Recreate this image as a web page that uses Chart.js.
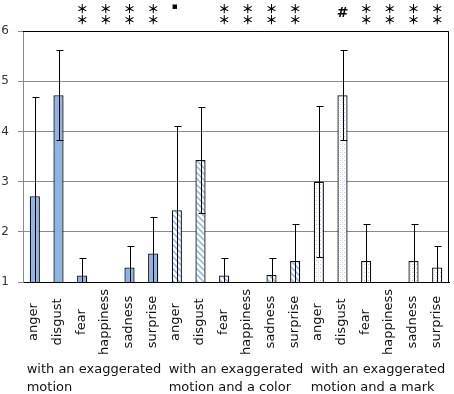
<!DOCTYPE html>
<html>
<head>
<meta charset="utf-8">
<script src="https://cdn.jsdelivr.net/npm/chart.js@4.4.0/dist/chart.umd.min.js"></script>
<style>
  html, body { margin: 0; padding: 0; background: #fff; }
</style>
</head>
<body>
<canvas id="c" width="454" height="394"></canvas>
<script>
// data
const emotions = ['anger', 'disgust', 'fear', 'happiness', 'sadness', 'surprise'];
const conditions = [
  ['with an exaggerated', 'motion'],
  ['with an exaggerated', 'motion and a color'],
  ['with an exaggerated', 'motion and a mark'],
];
const motionOnly = [2.71, 4.72, 1.13, 1.0, 1.29, 1.57];
const motionColor = [2.43, 3.43, 1.13, 1.0, 1.14, 1.42];
const motionMark = [3.0, 4.72, 1.42, 1.0, 1.42, 1.29];
const motionOnlyErr = [1.98, 0.9, 0.35, 0, 0.43, 0.73];
const motionColorErr = [1.68, 1.05, 0.35, 0, 0.34, 0.73];
const motionMarkErr = [1.51, 0.9, 0.73, 0, 0.73, 0.43];
const marks = ['', '', '**', '**', '**', '**', '▪', '', '**', '**', '**', '**', '', '#', '**', '**', '**', '**'];
const yMin = 1, yMax = 6;

const labels = conditions.flatMap(() => emotions);
const values = [...motionOnly, ...motionColor, ...motionMark];
const errors = [...motionOnlyErr, ...motionColorErr, ...motionMarkErr];

const canvas = document.getElementById('c');
const ctx = canvas.getContext('2d');

function stripePattern() {
  const p = document.createElement('canvas');
  p.width = 6; p.height = 6;
  const g = p.getContext('2d');
  g.fillStyle = '#fff';
  g.fillRect(0, 0, 6, 6);
  g.strokeStyle = '#8bb3e4';
  g.lineWidth = 1.5;
  g.beginPath();
  g.moveTo(-1, -1); g.lineTo(7, 7);
  g.moveTo(-1, 5); g.lineTo(1, 7);
  g.moveTo(5, -1); g.lineTo(7, 1);
  g.stroke();
  return ctx.createPattern(p, 'repeat');
}

function dotPattern() {
  const p = document.createElement('canvas');
  p.width = 4; p.height = 4;
  const g = p.getContext('2d');
  g.fillStyle = '#fff';
  g.fillRect(0, 0, 4, 4);
  g.fillStyle = '#b4cbea';
  g.fillRect(0, 0, 1, 1);
  g.fillRect(2, 2, 1, 1);
  g.fillStyle = '#dde8f6';
  g.fillRect(2, 0, 1, 1);
  return ctx.createPattern(p, 'repeat');
}

const fills = [].concat(
  emotions.map(() => '#8db4e2'),
  emotions.map(() => stripePattern()),
  emotions.map(() => dotPattern())
);

const errorBars = {
  id: 'errorBars',
  afterDatasetsDraw(chart) {
    const { ctx, chartArea, scales: { y } } = chart;
    const meta = chart.getDatasetMeta(0);
    ctx.save();
    ctx.beginPath();
    ctx.rect(chartArea.left, chartArea.top - 2, chartArea.width, chartArea.height + 2);
    ctx.clip();
    ctx.strokeStyle = '#000';
    ctx.lineWidth = 1;
    meta.data.forEach((bar, i) => {
      const e = errors[i];
      if (!e) return;
      const x = Math.round(bar.x) + 0.5;
      const hi = Math.round(y.getPixelForValue(values[i] + e)) + 0.5;
      const lowVal = values[i] - e;
      const lo = Math.round(y.getPixelForValue(Math.max(lowVal, y.min))) + 0.5;
      ctx.beginPath();
      ctx.moveTo(x, hi); ctx.lineTo(x, lo);
      ctx.moveTo(x - 3, hi); ctx.lineTo(x + 4, hi);
      if (lowVal >= y.min) { ctx.moveTo(x - 3, lo); ctx.lineTo(x + 4, lo); }
      ctx.stroke();
    });
    ctx.restore();
  }
};

const extras = {
  id: 'extras',
  afterDraw(chart) {
    const { ctx, chartArea, scales: { x } } = chart;
    ctx.save();
    // frame: top and right edges
    ctx.strokeStyle = '#000';
    ctx.lineWidth = 1;
    ctx.beginPath();
    ctx.moveTo(chartArea.left, chartArea.top + 0.5);
    ctx.lineTo(chartArea.right - 0.5, chartArea.top + 0.5);
    ctx.lineTo(chartArea.right - 0.5, chartArea.bottom);
    ctx.stroke();

    // significance marks above the plot
    ctx.fillStyle = '#000';
    ctx.textAlign = 'center';
    ctx.textBaseline = 'middle';
    marks.forEach((m, i) => {
      if (!m) return;
      const px = x.getPixelForValue(i);
      if (m === '**') {
        ctx.font = 'bold 12px "Noto Sans CJK JP"';
        ctx.fillText('＊', px, chartArea.top - 22);
        ctx.fillText('＊', px, chartArea.top - 11);
      } else if (m === '▪') {
        ctx.font = '9px "DejaVu Sans"';
        ctx.fillText(m, px - 2, chartArea.top - 24);
      } else {
        ctx.font = 'bold 14px "DejaVu Sans"';
        ctx.fillText(m, px, chartArea.top - 18);
      }
    });

    // emotion labels, rotated and centred in the axis band
    ctx.font = '13px "DejaVu Sans"';
    ctx.fillStyle = '#111';
    const midY = (x.top + x.bottom) / 2 + 1;
    labels.forEach((lab, i) => {
      ctx.save();
      ctx.translate(x.getPixelForValue(i) - 1, midY);
      ctx.rotate(-Math.PI / 2);
      ctx.fillText(lab, 0, 0);
      ctx.restore();
    });

    // condition labels under the emotion labels
    ctx.textAlign = 'left';
    conditions.forEach((lines, g) => {
      const first = x.getPixelForValue(g * emotions.length);
      const last = x.getPixelForValue(g * emotions.length + emotions.length - 1);
      const w = Math.max(...lines.map(l => ctx.measureText(l).width));
      const left = Math.max(2, (first + last) / 2 - w / 2);
      lines.forEach((l, k) => {
        ctx.fillText(l, left, chart.height - 24 + k * 18);
      });
    });
    ctx.restore();
  }
};

new Chart(ctx, {
  type: 'bar',
  data: {
    labels: labels,
    datasets: [{
      data: values,
      backgroundColor: fills,
      borderColor: '#111',
      borderWidth: 1.3,
      borderSkipped: false,
      categoryPercentage: 1,
      barPercentage: 0.43,
    }],
  },
  options: {
    responsive: false,
    animation: false,
    layout: { padding: { top: 31, right: 5, bottom: 34, left: 0 } },
    plugins: {
      legend: { display: false },
      tooltip: { enabled: false },
    },
    scales: {
      x: {
        afterFit(scale) { scale.height = 78; },
        grid: { display: false, drawTicks: false },
        border: { display: true, color: '#000', width: 1 },
        ticks: { display: false },
      },
      y: {
        min: yMin,
        max: yMax,
        afterFit(scale) { scale.width = 23; },
        grid: { color: '#8a8a8a', tickLength: 5 },
        border: { color: '#8a8a8a' },
        ticks: {
          stepSize: 1,
          padding: 9,
          color: '#333',
          font: { family: 'DejaVu Sans', size: 12 },
        },
      },
    },
  },
  plugins: [errorBars, extras],
});
</script>
</body>
</html>
